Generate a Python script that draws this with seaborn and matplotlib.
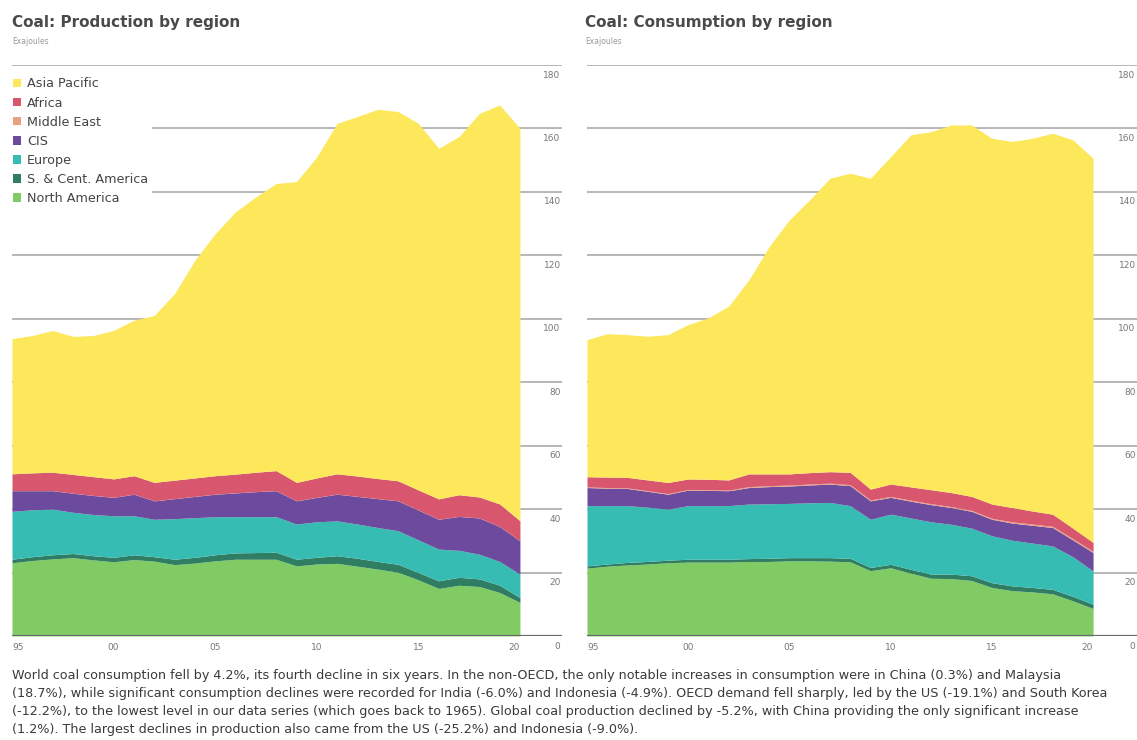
import matplotlib
matplotlib.use("Agg")
import matplotlib.pyplot as plt
from matplotlib.patches import Patch
import seaborn as sns

# Data (exajoules)
YEARS = list(range(1995, 2021))
REGIONS = ["North America", "S. & Cent. America", "Europe", "CIS",
           "Middle East", "Africa", "Asia Pacific"]

# Production by region
prod_na = [23.1, 23.8, 24.3, 24.7, 24.0, 23.4, 24.1, 23.6, 22.5, 23.0, 23.7, 24.2, 24.2,
           24.2, 22.1, 22.7, 22.9, 22.0, 21.1, 20.1, 17.7, 15.0, 16.0, 15.6, 13.7, 10.6]
prod_sca = [1.1, 1.2, 1.3, 1.3, 1.3, 1.4, 1.5, 1.4, 1.7, 1.8, 1.9, 2.0, 2.1,
            2.2, 2.1, 2.1, 2.4, 2.5, 2.4, 2.5, 2.3, 2.4, 2.5, 2.4, 2.3, 1.5]
prod_eu = [15.1, 14.8, 14.4, 13.0, 13.0, 13.1, 12.3, 11.8, 12.8, 12.5, 12.0, 11.4, 11.3,
           11.2, 11.1, 11.2, 11.0, 10.8, 10.7, 10.6, 10.3, 10.0, 8.5, 7.8, 7.5, 7.4]
prod_cis = [6.5, 6.0, 5.8, 6.0, 6.0, 5.8, 6.8, 5.8, 6.3, 6.7, 7.1, 7.5, 7.9,
            8.2, 7.3, 7.7, 8.4, 8.7, 9.1, 9.4, 9.4, 9.4, 10.7, 11.4, 11.0, 10.5]
prod_me = [0.03, 0.03, 0.03, 0.03, 0.03, 0.03, 0.03, 0.03, 0.03, 0.03, 0.03, 0.03, 0.03,
           0.03, 0.03, 0.03, 0.03, 0.03, 0.03, 0.03, 0.03, 0.03, 0.03, 0.03, 0.03, 0.03]
prod_af = [5.3, 5.6, 5.8, 5.9, 5.9, 5.8, 5.8, 5.8, 5.8, 5.8, 5.8, 5.9, 6.1,
           6.3, 5.8, 6.1, 6.4, 6.4, 6.3, 6.3, 6.3, 6.4, 6.8, 6.6, 7.1, 6.3]
prod_ap = [42.6, 43.3, 44.7, 43.5, 44.5, 46.8, 49.0, 52.6, 58.8, 68.6, 76.3, 82.7, 86.8,
           90.5, 94.8, 101.2, 110.5, 113.3, 116.4, 116.4, 115.6, 110.5, 112.9, 120.9, 125.8, 123.7]

# Consumption by region
cons_na = [21.4, 22.0, 22.4, 22.7, 23.1, 23.3, 23.3, 23.3, 23.5, 23.5, 23.7, 23.7, 23.6,
           23.4, 20.6, 21.5, 19.8, 18.2, 18.1, 17.5, 15.3, 14.3, 13.9, 13.3, 11.1, 8.7]
cons_sca = [0.7, 0.7, 0.8, 0.8, 0.8, 0.9, 0.9, 0.9, 0.9, 1.0, 1.0, 1.0, 1.1,
            1.1, 1.0, 1.1, 1.2, 1.3, 1.4, 1.5, 1.5, 1.5, 1.4, 1.4, 1.4, 1.3]
cons_eu = [19.0, 18.4, 17.9, 17.1, 16.1, 16.9, 16.9, 16.9, 17.2, 17.2, 17.1, 17.3, 17.4,
           16.6, 15.2, 15.8, 16.2, 16.5, 15.7, 15.0, 14.8, 14.4, 14.0, 13.7, 12.5, 10.5]
cons_cis = [5.7, 5.5, 5.4, 5.0, 4.7, 4.9, 4.8, 4.7, 5.2, 5.4, 5.5, 5.6, 5.8,
            6.3, 5.8, 5.3, 5.3, 5.4, 5.3, 5.3, 5.2, 5.4, 5.6, 5.8, 5.3, 5.8]
cons_me = [0.2, 0.2, 0.2, 0.2, 0.2, 0.2, 0.2, 0.2, 0.3, 0.3, 0.3, 0.3, 0.3,
           0.3, 0.3, 0.3, 0.3, 0.3, 0.3, 0.3, 0.3, 0.4, 0.4, 0.4, 0.4, 0.4]
cons_af = [3.2, 3.3, 3.3, 3.4, 3.5, 3.3, 3.3, 3.2, 4.0, 3.7, 3.5, 3.6, 3.6,
           3.9, 3.4, 3.9, 4.2, 4.4, 4.4, 4.4, 4.5, 4.5, 4.1, 3.8, 3.3, 2.8]
cons_ap = [43.2, 45.2, 45.0, 45.3, 46.6, 48.7, 50.9, 54.8, 61.2, 71.7, 80.1, 86.0, 92.5,
           94.3, 98.0, 103.2, 111.0, 112.9, 115.9, 117.1, 115.3, 115.4, 117.5, 120.1, 122.4, 121.1]

X_TICKS = [1995, 2000, 2005, 2010, 2015, 2020]
X_LABELS = ["95", "00", "05", "10", "15", "20"]
Y_TICKS = [0, 20, 40, 60, 80, 100, 120, 140, 160, 180]

COLORS = ["#80CB64", "#2F7D63", "#36BCB3", "#6C4A9D", "#E9A07F", "#D8566E", "#FCE85A"]

TEXT = ("World coal consumption fell by 4.2%, its fourth decline in six years. In the non-OECD, "
        "the only notable increases in consumption were in China (0.3%) and Malaysia\n"
        "(18.7%), while significant consumption declines were recorded for India (-6.0%) and "
        "Indonesia (-4.9%). OECD demand fell sharply, led by the US (-19.1%) and South Korea\n"
        "(-12.2%), to the lowest level in our data series (which goes back to 1965). Global coal "
        "production declined by -5.2%, with China providing the only significant increase\n"
        "(1.2%). The largest declines in production also came from the US (-25.2%) and Indonesia (-9.0%).")

W, H = 1137, 740


def draw_panel(ax, series, xmax):
    for v in Y_TICKS[1:]:
        ax.axhline(v, color="#a3a3a3", lw=1.1, zorder=0)
    ax.stackplot(YEARS, *series, colors=COLORS, lw=0, zorder=2)
    ax.axhline(0, color="#6a6a6a", lw=1.6, zorder=3)
    ax.set_xlim(1995, xmax)
    ax.set_ylim(0, 180)
    ax.set_xticks(X_TICKS)
    ax.set_xticklabels(X_LABELS)
    ax.set_yticks([])
    ax.tick_params(axis="x", length=0, pad=5, labelsize=6.5, labelcolor="#777777")
    for lbl in ax.get_xticklabels():
        if lbl.get_text() == "95":
            lbl.set_ha("left")
        elif lbl.get_text() == "20":
            lbl.set_ha("right")
    sns.despine(ax=ax, left=True, bottom=True)
    for v in Y_TICKS:
        ax.annotate(str(v), xy=(1, v), xycoords=("axes fraction", "data"),
                    xytext=(-1, -4), textcoords="offset points",
                    ha="right", va="top", fontsize=6.5, color="#777777")


def main():
    sns.set_theme(style="white")
    plt.rcParams["font.family"] = ["DejaVu Sans"]

    fig = plt.figure(figsize=(W / 100, H / 100), dpi=100)
    bottom = (H - 636) / H
    height = (636 - 65) / H
    ax1 = fig.add_axes([12 / W, bottom, (562 - 12) / W, height])
    ax2 = fig.add_axes([587 / W, bottom, (W - 587) / W, height])

    draw_panel(ax1, [prod_na, prod_sca, prod_eu, prod_cis, prod_me, prod_af, prod_ap], 2022.07)
    draw_panel(ax2, [cons_na, cons_sca, cons_eu, cons_cis, cons_me, cons_af, cons_ap], 2022.17)

    # Legend, top of the list is the top of the stack
    handles = [Patch(facecolor=c, edgecolor="none", label=r)
               for r, c in zip(REGIONS[::-1], COLORS[::-1])]
    leg = ax1.legend(handles=handles, loc="upper left", bbox_to_anchor=(-0.005, 0.985),
                     frameon=True, facecolor="white", edgecolor="none", framealpha=1,
                     fontsize=9.2, handlelength=0.65, handleheight=0.65, handletextpad=0.45,
                     labelspacing=0.48, borderpad=0.3, borderaxespad=0)
    leg.set_zorder(5)
    for t in leg.get_texts():
        t.set_color("#444444")

    # Titles
    for x0, title in [(12, "Coal: Production by region"), (585, "Coal: Consumption by region")]:
        fig.text(x0 / W, 1 - 22 / H, title, fontsize=11, fontweight="bold",
                 color="#4a4a4a", va="center")
        fig.text(x0 / W, 1 - 42 / H, "Exajoules", fontsize=5.5, color="#999999", va="center")

    fig.text(12 / W, 1 - 669 / H, TEXT, fontsize=9.2, color="#3a3a3a", va="top",
             linespacing=1.5)

    fig.savefig("out.png", dpi=100)
    plt.close(fig)


if __name__ == "__main__":
    main()
